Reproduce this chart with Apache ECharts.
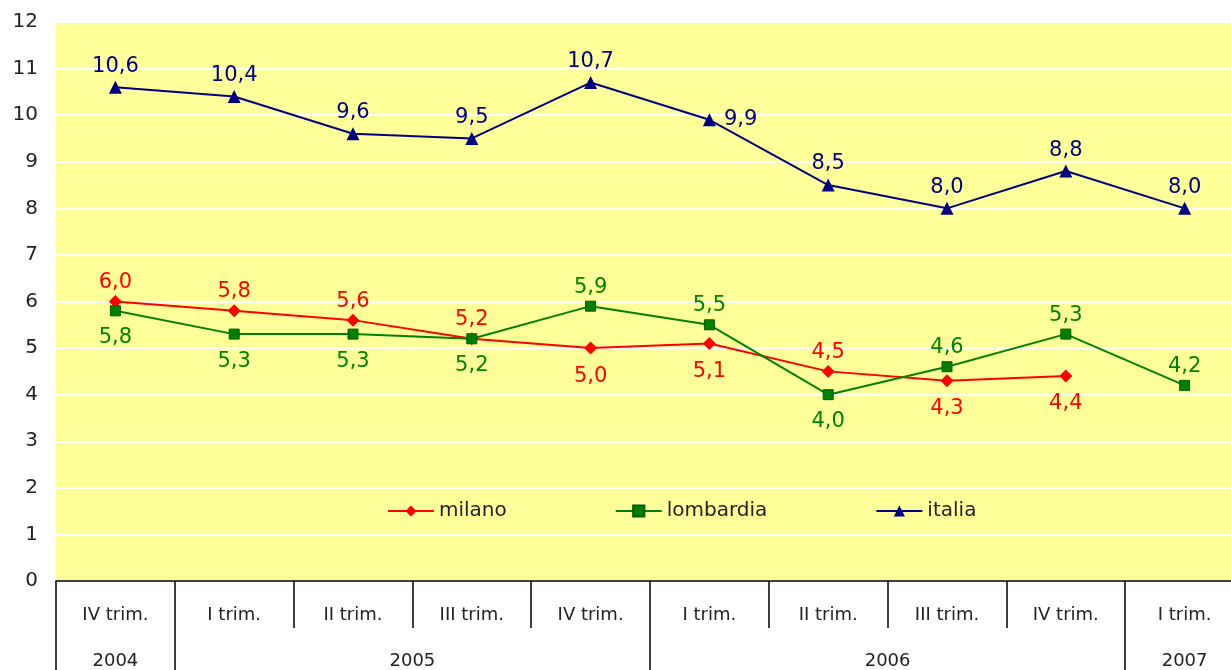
<!DOCTYPE html>
<html>
<head>
<meta charset="utf-8">
<style>
  html, body { margin: 0; padding: 0; background: #fff; }
  #chart { width: 1231px; height: 670px; }
</style>
<script src="https://cdn.jsdelivr.net/npm/echarts@6/dist/echarts.min.js"></script>
</head>
<body>
<div id="chart"></div>
<script>
// categorie (trimestri) e anni
const quarters = ["IV trim.", "I trim.", "II trim.", "III trim.", "IV trim.", "I trim.", "II trim.", "III trim.", "IV trim.", "I trim."];
const years = ["2004", "2005", "2006", "2007"];
const yearBounds = [0, 1, 5, 9, 10];
const yearCenters = [0.5, 3, 7, 9.5];

// valori delle serie
const milano = [6.0, 5.8, 5.6, 5.2, 5.0, 5.1, 4.5, 4.3, 4.4, null];
const lombardia = [5.8, 5.3, 5.3, 5.2, 5.9, 5.5, 4.0, 4.6, 5.3, 4.2];
const italia = [10.6, 10.4, 9.6, 9.5, 10.7, 9.9, 8.5, 8.0, 8.8, 8.0];

// posizione delle etichette dei punti
const milanoPos = ["top", "top", "top", "top", "bottom", "bottom", "top", "bottom", "bottom", "top"];
const lombardiaPos = ["bottom", "bottom", "bottom", "bottom", "top", "top", "bottom", "top", "top", "top"];
const italiaPos = ["top", "top", "top", "top", "top", "right", "top", "top", "top", "top"];

const FONT = "DejaVu Sans";
const fmt = (v) => v.toFixed(1).replace(".", ",");

// dist: distanza etichetta sopra / sotto
const withLabels = (values, pos, color, dist) =>
  values.map((v, i) => ({
    value: v,
    label: {
      show: v !== null,
      position: pos[i],
      distance: dist[pos[i]],
      color: color,
      fontFamily: FONT,
      fontSize: 21,
      formatter: (p) => fmt(p.value),
    },
  }));

const chart = echarts.init(document.getElementById("chart"));

const option = {
  animation: false,
  textStyle: { fontFamily: FONT },
  grid: {
    left: 56,
    right: -13,
    top: 22,
    bottom: 89,
    outerBoundsMode: "none",
    show: true,
    backgroundColor: "#FFFF99",
    borderWidth: 0,
  },
  legend: {
    left: 382,
    top: 496,
    itemGap: 108,
    itemWidth: 46,
    itemHeight: 14,
    textStyle: { fontFamily: FONT, fontSize: 20, color: "#222" },
    data: ["milano", "lombardia", "italia"],
  },
  xAxis: [
    {
      type: "category",
      data: quarters,
      boundaryGap: true,
      axisLine: { show: true, lineStyle: { color: "#000", width: 1.5 } },
      axisTick: {
        show: true,
        interval: 0,
        alignWithLabel: false,
        length: 47,
        lineStyle: { color: "#000", width: 1.5 },
      },
      axisLabel: { interval: 0, margin: 25, fontSize: 18, color: "#222", fontFamily: FONT },
    },
    {
      type: "value",
      position: "bottom",
      min: 0,
      max: 10,
      axisLine: { show: false },
      splitLine: { show: false },
      axisTick: {
        show: true,
        customValues: yearBounds,
        length: 89,
        lineStyle: { color: "#000", width: 1.5 },
      },
      axisLabel: {
        customValues: yearCenters,
        margin: 71,
        fontSize: 18,
        color: "#222",
        fontFamily: FONT,
        formatter: (v) => years[yearCenters.indexOf(v)],
      },
    },
  ],
  yAxis: {
    type: "value",
    min: 0,
    max: 12,
    interval: 1,
    axisLine: { show: false },
    axisTick: { show: false },
    splitLine: { lineStyle: { color: "#fff", width: 2 } },
    axisLabel: { margin: 18, fontSize: 20, color: "#222", fontFamily: FONT },
  },
  series: [
    {
      name: "milano",
      type: "line",
      data: withLabels(milano, milanoPos, "#FF0000", { top: 2, bottom: 11 }),
      color: "#FF0000",
      symbol: "diamond",
      symbolSize: 13,
      lineStyle: { width: 2 },
    },
    {
      name: "lombardia",
      type: "line",
      data: withLabels(lombardia, lombardiaPos, "#008000", { top: 3, bottom: 11 }),
      color: "#008000",
      symbol: "rect",
      symbolSize: 10,
      itemStyle: { borderColor: "#005a00", borderWidth: 1 },
      lineStyle: { width: 2 },
    },
    {
      name: "italia",
      type: "line",
      data: withLabels(italia, italiaPos, "#000080", { top: 4, bottom: 10, right: 8 }),
      color: "#000080",
      symbol: "triangle",
      symbolSize: 13,
      lineStyle: { width: 2 },
    },
  ],
};

chart.setOption(option);
</script>
</body>
</html>
